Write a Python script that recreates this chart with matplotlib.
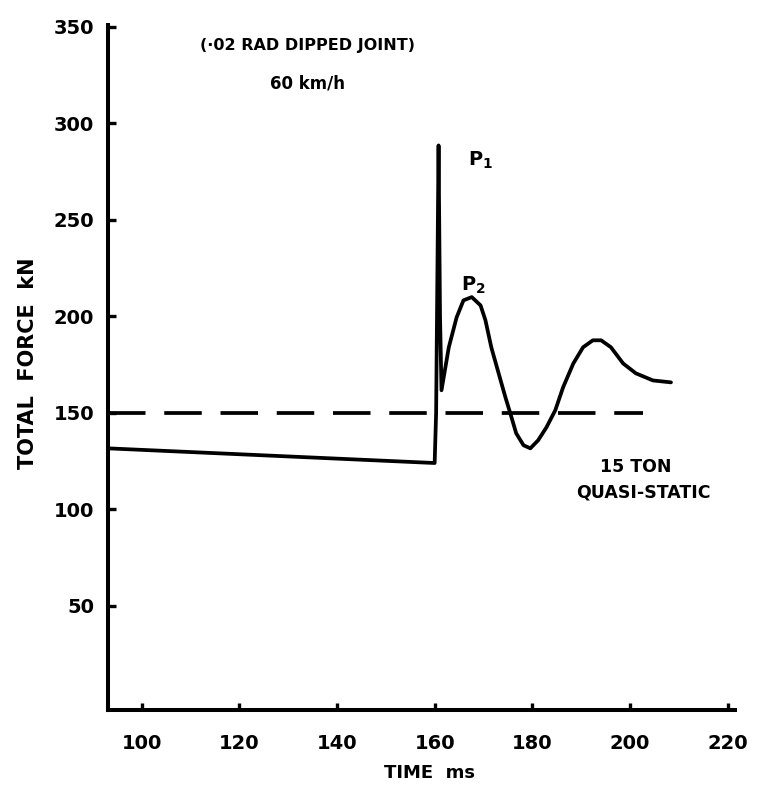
import matplotlib
matplotlib.use("Agg")
import matplotlib.pyplot as plt

time_ms = [93.1, 160.0, 160.3, 160.8, 161.1, 161.4, 162.9, 164.5, 165.9, 167.6,
           169.4, 170.4, 171.6, 173.1, 174.5, 175.5, 176.7, 178.2, 179.6, 181.2,
           182.9, 184.7, 186.3, 188.4, 190.4, 192.4, 194.1, 196.1, 198.6, 201.2,
           204.7, 208.4]
force_kn = [131.6, 124.0, 150.0, 288.6, 200.0, 161.7, 184.0, 199.5, 208.3, 210.0,
            205.7, 198.0, 184.0, 170.5, 158.0, 149.7, 139.4, 133.2, 131.6, 135.8,
            142.5, 151.3, 163.2, 175.6, 184.0, 187.6, 187.6, 184.0, 175.6, 170.5,
            166.8, 165.8]

quasi_static_kn = 150
quasi_static_span = [93.1, 202.7]

x_ticks = [100, 120, 140, 160, 180, 200, 220]
y_ticks = [50, 100, 150, 200, 250, 300, 350]

fig = plt.figure(figsize=(7.59, 7.90), dpi=100)
ax = fig.add_axes([0.1423, 0.1013, 0.826, 0.867])

ax.plot(time_ms, force_kn, color="black", lw=2.7,
        solid_joinstyle="round", solid_capstyle="round")
ax.plot(quasi_static_span, [quasi_static_kn, quasi_static_kn], color="black",
        lw=2.7, dashes=(10, 5))

ax.set_xlim(93.1, 221.5)
ax.set_ylim(-4, 351)
ax.set_xticks(x_ticks)
ax.set_yticks(y_ticks)

for s in ["top", "right"]:
    ax.spines[s].set_visible(False)
for s in ["left", "bottom"]:
    ax.spines[s].set_linewidth(2.9)

ax.tick_params(axis="y", direction="in", length=6, width=2.4, pad=10,
               labelsize=14)
ax.tick_params(axis="x", direction="in", length=5, width=2.4, pad=17,
               labelsize=14)
for lab in ax.get_xticklabels() + ax.get_yticklabels():
    lab.set_fontweight("heavy")

# annotations
ax.text(133.9, 340.4, "(·02 RAD DIPPED JOINT)", ha="center", va="center",
        fontsize=11.5, fontweight="heavy")
ax.text(133.9, 320.7, "60 km/h", ha="center", va="center",
        fontsize=12, fontweight="heavy")
ax.text(166.9, 281, r"$\mathbf{P_1}$", ha="left", va="center", fontsize=14)
ax.text(165.4, 216, r"$\mathbf{P_2}$", ha="left", va="center", fontsize=14)
ax.text(201.2, 121.8, "15 TON", ha="center", va="center",
        fontsize=12.5, fontweight="heavy")
ax.text(202.7, 108.8, "QUASI-STATIC", ha="center", va="center",
        fontsize=12.5, fontweight="heavy")

fig.text(28 / 759, 1 - 363 / 790, "TOTAL  FORCE  kN", rotation=90,
         ha="center", va="center", fontsize=15, fontweight="heavy")
fig.text(430 / 759, 1 - 773 / 790, "TIME  ms", ha="center", va="center",
         fontsize=13, fontweight="heavy")

fig.savefig("out.png", dpi=100)
